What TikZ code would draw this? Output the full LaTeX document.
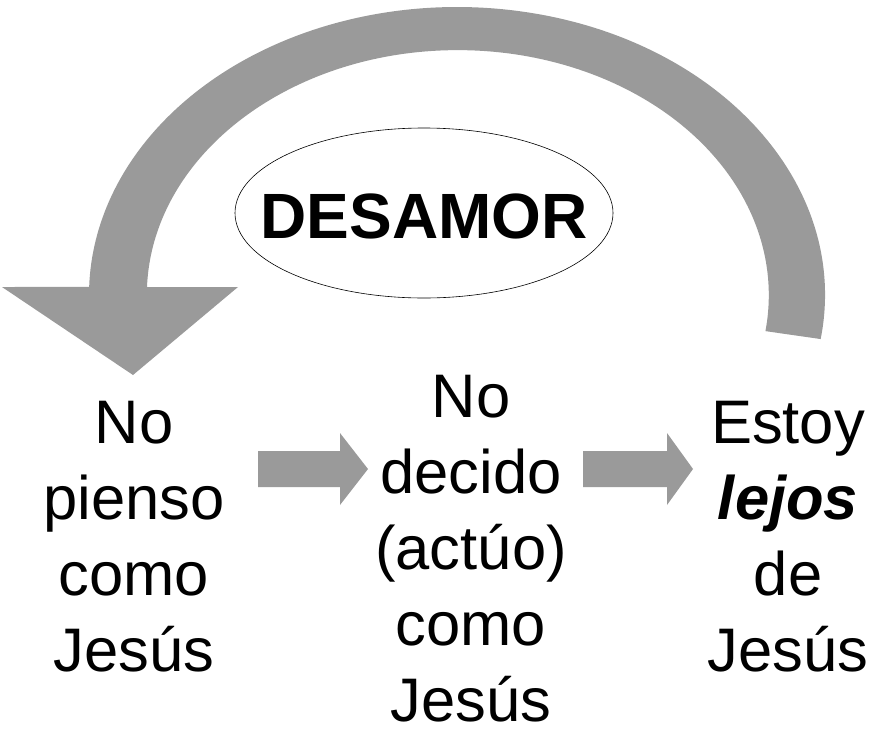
\documentclass[tikz,border=0pt]{standalone}
\usepackage{fontspec}
\setmainfont{Liberation Sans}
\definecolor{arrowgray}{HTML}{9A9A9A}
\begin{document}
\begin{tikzpicture}[x=1pt,y=-1pt,
  bigtext/.style={align=center,inner sep=0pt,anchor=north,font=\fontsize{61.5}{76}\selectfont},
  blockarrow/.style={fill=arrowgray,draw=none}]
\useasboundingbox (0,0) rectangle (880,739);
% big curved arrow
\fill[arrowgray] (457,295) ++(8.8:368 and 288)
  arc[start angle=8.8, end angle=-178.4, x radius=368, y radius=288]
  -- (2,287) -- (133,375) -- (238,287) -- (147,287)
  arc[start angle=-178.1, end angle=8.45, x radius=311, y radius=245] -- cycle;
% ellipse
\coordinate (ec) at (424,213);
\draw[black, line width=0.6pt] (ec) ellipse [x radius=189, y radius=85];
\node[inner sep=0pt, font=\fontsize{64}{64}\selectfont\bfseries] (des) at (424,216) {DESAMOR};
% text columns
\node[bigtext] (left) at (134,401) {No\\pienso\\como\\Jesús};
\node[bigtext] (mid) at (471,375) {No\\decido\\(actúo)\\como\\Jesús};
\node[bigtext] (right) at (788,401) {Estoy\\\textbf{\textit{lejos}}\\de\\Jesús};
% small block arrows
\fill[blockarrow] (258,451) -- (340,451) -- (340,433) -- (368,469) -- (340,505) -- (340,487) -- (258,487) -- cycle;
\fill[blockarrow] (583,451) -- (667,451) -- (667,433) -- (693,469) -- (667,505) -- (667,487) -- (583,487) -- cycle;
\end{tikzpicture}
\end{document}
